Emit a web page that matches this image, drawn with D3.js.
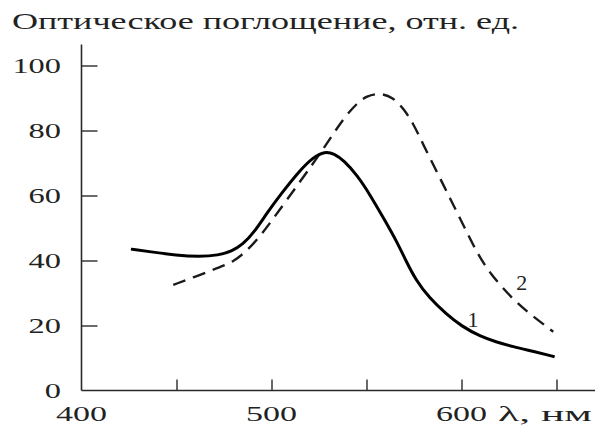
<!DOCTYPE html>
<html><head><meta charset="utf-8">
<script src="https://cdn.jsdelivr.net/npm/d3@7"></script>
<style>
html,body{margin:0;padding:0;background:#fff;}
svg{display:block;}
text{font-family:"Liberation Serif","Times New Roman",serif;fill:#222;}
</style></head>
<body>
<svg id="chart" width="595" height="429"></svg>
<script>
const title = "Оптическое поглощение, отн. ед.";
const xUnit = "λ, нм";
const xTicks = [450, 500, 550, 600, 650];
const xTickLabels = [400, 500, 600];
const yTicks = [20, 40, 60, 80, 100];
const yTickLabels = [0, 20, 40, 60, 80, 100];

const curve1Wavelength = [426, 436, 450, 462, 472, 479, 485, 491, 497.5, 505, 515, 522, 528, 533, 538, 545, 552, 559, 566, 571, 576, 583, 592, 600, 610, 618, 627, 638, 649];
const curve1Values     = [43.5, 42.7, 41.6, 41.2, 41.6, 42.8, 45, 48.8, 54.5, 60.5, 67.8, 71.8, 73.6, 72.9, 70.8, 66.3, 60.1, 53, 45.8, 39.6, 34, 28.5, 23.5, 19.8, 16.6, 15, 13.5, 12, 10.4];

const curve2Wavelength = [448.3, 462, 472, 480, 487, 494, 508, 522, 531, 538, 545, 550, 557, 564, 569.4, 574.6, 580, 587, 594, 601, 608, 615, 627.3, 637.8, 648.3];
const curve2Values     = [32.5, 35.5, 37.8, 39.6, 43, 47.3, 58.6, 69.9, 77.6, 83.8, 88.4, 90.6, 91.6, 90.2, 86.8, 82.2, 75.5, 67.3, 59.1, 50.9, 42.5, 36, 27.8, 22.7, 18.1];

const curveLabels = ["1", "2"];
const curveLabelAt = [[606, 19.5], [631.7, 30.8]];

const svg = d3.select("#chart");
const x = d3.scaleLinear().domain([400, 650]).range([81.5, 556.5]);
const y = d3.scaleLinear().domain([0, 100]).range([390.5, 65.5]);
const ink = "#2a2a2a";

// title
svg.append("text").attr("x", 12).attr("y", 29)
  .attr("font-size", 22.5).attr("textLength", 507).attr("lengthAdjust", "spacingAndGlyphs")
  .text(title);

// axes lines
svg.append("line").attr("x1", x(400)).attr("x2", x(400)).attr("y1", y(0)).attr("y2", y(106.5))
  .attr("stroke", ink).attr("stroke-width", 1.6);
svg.append("line").attr("x1", x(400)).attr("x2", x(672)).attr("y1", y(0)).attr("y2", y(0))
  .attr("stroke", ink).attr("stroke-width", 1.6);

// y ticks (inward)
const yAxis = d3.axisRight(y).tickValues(yTicks).tickSize(16).tickFormat("");
const gy = svg.append("g").attr("transform", `translate(${x(400)},0)`).call(yAxis);
gy.select(".domain").remove();
gy.selectAll(".tick line").attr("stroke", ink).attr("stroke-width", 1.4);

// x ticks (inward)
const xAxis = d3.axisTop(x).tickValues(xTicks).tickSize(11).tickFormat("");
const gx = svg.append("g").attr("transform", `translate(0,${y(0)})`).call(xAxis);
gx.select(".domain").remove();
gx.selectAll(".tick line").attr("stroke", ink).attr("stroke-width", 1.4);

// y labels
svg.append("g").selectAll("text").data(yTickLabels).join("text")
  .attr("x", 61).attr("y", d => y(d) + 7.5)
  .attr("text-anchor", "end").attr("font-size", 22)
  .attr("textLength", d => String(d).length * 16.2).attr("lengthAdjust", "spacingAndGlyphs")
  .text(d => d);

// x labels
svg.append("g").selectAll("text").data(xTickLabels).join("text")
  .attr("x", d => x(d) - 25.5).attr("y", 421)
  .attr("font-size", 22)
  .attr("textLength", 51).attr("lengthAdjust", "spacingAndGlyphs")
  .text(d => d);

svg.append("text").attr("x", 498).attr("y", 421).attr("font-size", 22)
  .attr("textLength", 94).attr("lengthAdjust", "spacingAndGlyphs").text(xUnit);

// curves
const line = d3.line().x(d => x(d[0])).y(d => y(d[1])).curve(d3.curveBasis);
const c1 = curve1Wavelength.map((w, i) => [w, curve1Values[i]]);
const c2 = curve2Wavelength.map((w, i) => [w, curve2Values[i]]);

svg.append("path").attr("d", line(c2)).attr("fill", "none")
  .attr("stroke", "#1a1a1a").attr("stroke-width", 2.4).attr("stroke-dasharray", "13,8");
svg.append("path").attr("d", line(c1)).attr("fill", "none")
  .attr("stroke", "#000").attr("stroke-width", 3);

// curve labels
svg.append("g").selectAll("text").data(curveLabels).join("text")
  .attr("x", (d, i) => x(curveLabelAt[i][0])).attr("y", (d, i) => y(curveLabelAt[i][1]))
  .attr("font-size", 22).attr("text-anchor", "middle")
  .text(d => d);
</script>
</body></html>
